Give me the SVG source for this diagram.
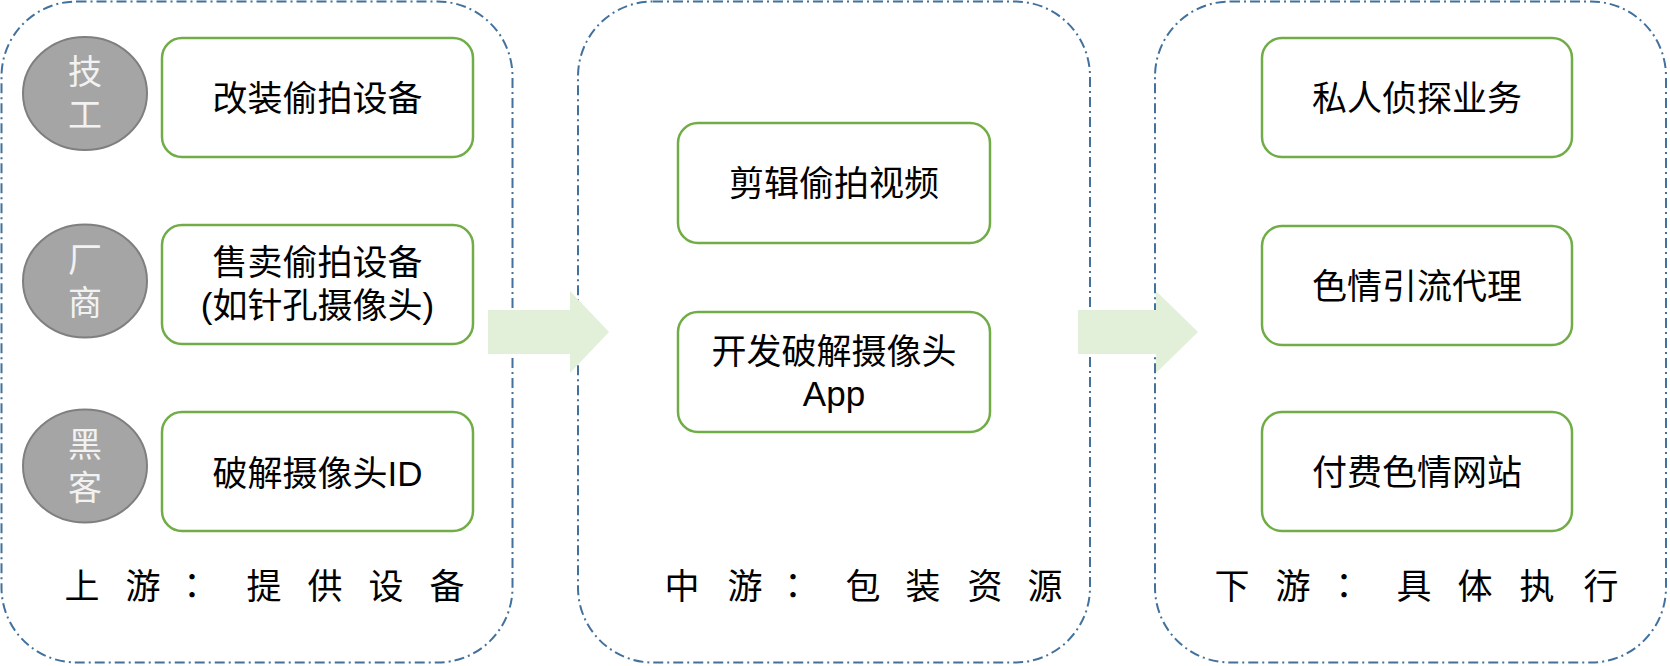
<svg xmlns="http://www.w3.org/2000/svg" width="1670" height="666" viewBox="0 0 1670 666">
<style>
.stage{fill:#ffffff;stroke:#41719c;stroke-width:2;stroke-dasharray:10 4 2 4}
.box{fill:#ffffff;stroke:#70ad47;stroke-width:2.5}
.role{fill:#a5a5a5;stroke:#7f7f7f;stroke-width:2}
.t{font-family:"Liberation Sans","Noto Sans CJK SC",sans-serif;font-size:35px;fill:#000000;text-anchor:middle}
.rt{font-family:"Liberation Sans","Noto Sans CJK SC",sans-serif;font-size:34px;fill:#f2f2f2;text-anchor:middle}
.lab{font-family:"Noto Sans CJK SC",sans-serif;font-size:35px;fill:#000000;text-anchor:middle}
.colon{font-family:"Noto Sans CJK JP",sans-serif}
.arrow{fill:#e2efd9}
</style>
<g id="stage-upstream">
<rect class="stage" x="1.5" y="1.5" width="511" height="661" rx="75"/>
<text class="lab" y="599"><tspan x="82">上</tspan><tspan x="143">游</tspan><tspan class="colon" x="192">：</tspan><tspan x="264">提</tspan><tspan x="325">供</tspan><tspan x="386">设</tspan><tspan x="447">备</tspan></text>
</g>
<g id="stage-midstream">
<rect class="stage" x="578" y="1.5" width="512" height="661" rx="75"/>
<text class="lab" y="599"><tspan x="682">中</tspan><tspan x="745">游</tspan><tspan class="colon" x="793">：</tspan><tspan x="863">包</tspan><tspan x="923">装</tspan><tspan x="985">资</tspan><tspan x="1045">源</tspan></text>
</g>
<g id="stage-downstream">
<rect class="stage" x="1155" y="1.5" width="511" height="661" rx="75"/>
<text class="lab" y="599"><tspan x="1232">下</tspan><tspan x="1293">游</tspan><tspan class="colon" x="1344">：</tspan><tspan x="1414">具</tspan><tspan x="1475">体</tspan><tspan x="1537">执</tspan><tspan x="1601">行</tspan></text>
</g>
<g id="connectors">
<polygon class="arrow" points="488,310 570,310 570,291 609,332 570,373 570,354 488,354"/>
<polygon class="arrow" points="1078,310 1156,310 1156,291 1198,332 1156,373 1156,354 1078,354"/>
</g>
<g id="role-technician">
<ellipse class="role" cx="85" cy="93.5" rx="62" ry="56.5"/>
<text class="rt" x="85" y="84">技</text>
<text class="rt" x="85" y="127">工</text>
</g>
<g id="role-vendor">
<ellipse class="role" cx="85" cy="281" rx="62" ry="56.5"/>
<text class="rt" x="85" y="271.5">厂</text>
<text class="rt" x="85" y="314.5">商</text>
</g>
<g id="role-hacker">
<ellipse class="role" cx="85" cy="466" rx="62" ry="56.5"/>
<text class="rt" x="85" y="456.5">黑</text>
<text class="rt" x="85" y="499.5">客</text>
</g>
<g id="modify-device">
<rect class="box" x="162" y="38" width="311" height="119" rx="20"/>
<text class="t" x="317.5" y="110.5">改装偷拍设备</text>
</g>
<g id="sell-device">
<rect class="box" x="162" y="225" width="311" height="119" rx="20"/>
<text class="t" x="317.5" y="275">售卖偷拍设备</text>
<text class="t" x="317.5" y="318">(如针孔摄像头)</text>
</g>
<g id="crack-id">
<rect class="box" x="162" y="412" width="311" height="119" rx="20"/>
<text class="t" x="317.5" y="486">破解摄像头ID</text>
</g>
<g id="edit-video">
<rect class="box" x="678" y="123" width="312" height="120" rx="20"/>
<text class="t" x="834" y="196">剪辑偷拍视频</text>
</g>
<g id="develop-app">
<rect class="box" x="678" y="312" width="312" height="120" rx="20"/>
<text class="t" x="834" y="364">开发破解摄像头</text>
<text class="t" x="834" y="406">App</text>
</g>
<g id="private-detective">
<rect class="box" x="1262" y="38" width="310" height="119" rx="20"/>
<text class="t" x="1417" y="110.5">私人侦探业务</text>
</g>
<g id="porn-traffic">
<rect class="box" x="1262" y="226" width="310" height="119" rx="20"/>
<text class="t" x="1417" y="298.5">色情引流代理</text>
</g>
<g id="paid-porn-site">
<rect class="box" x="1262" y="412" width="310" height="119" rx="20"/>
<text class="t" x="1417" y="484.5">付费色情网站</text>
</g>
</svg>
